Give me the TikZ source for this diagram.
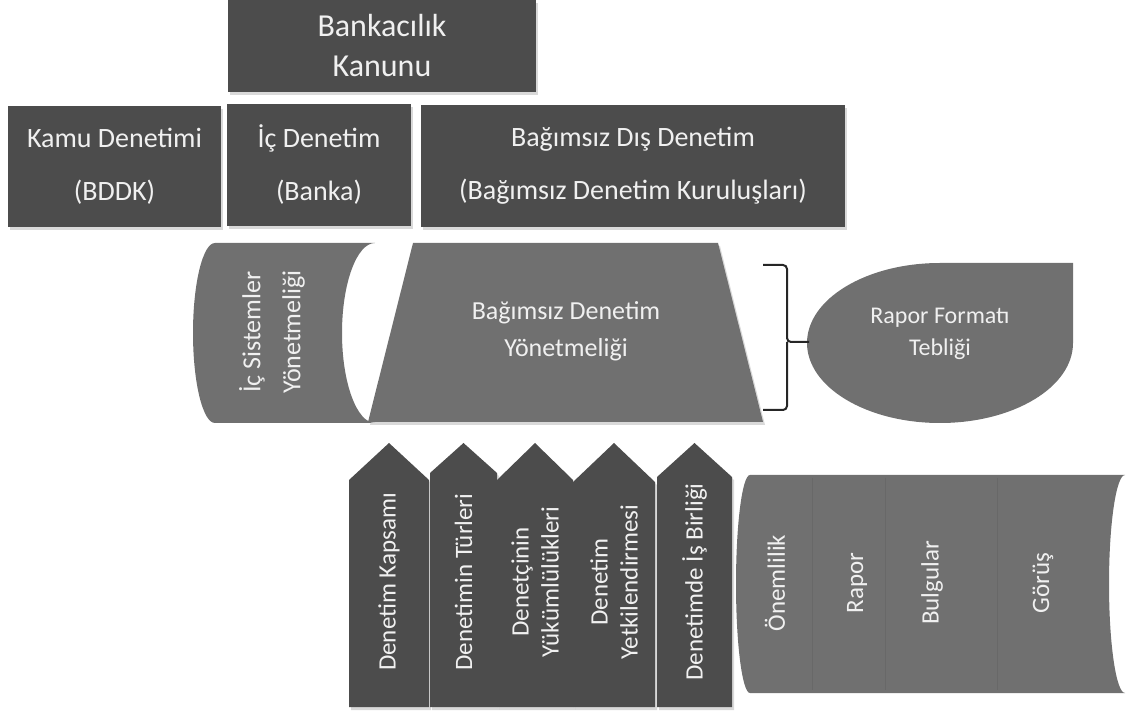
\documentclass[tikz,border=0pt]{standalone}
\usepackage{fontspec}
\setmainfont{Carlito}
\usepackage{tikz}
\usetikzlibrary{positioning, shadows}
\definecolor{auditdark}{RGB}{76,76,76}
\definecolor{auditmid}{RGB}{112,112,112}
\definecolor{audittext}{RGB}{240,240,240}

\begin{document}
\begin{tikzpicture}[x=0.5pt, y=-0.5pt,
            softshadow/.style={drop shadow={shadow xshift=1pt,shadow yshift=-1.5pt,opacity=.3}},
            box/.style={fill=auditdark,softshadow,text=audittext,align=center,
                        inner sep=0pt,font=\fontsize{14}{26.5}\selectfont},
            body/.style={fill=auditmid},
            lbl/.style={text=audittext,align=center,font=\fontsize{13}{20}\selectfont},
            vlbl/.style={lbl,rotate=90,font=\fontsize{12.5}{15}\selectfont},
            clamp/.style={draw=black!85,line width=1pt,rounded corners=2pt},
            seam/.style={draw=auditmid!93!black,line width=0.4pt}]
        \useasboundingbox (0,0) rectangle (1134,715);
        % top row
        \node[box,minimum width=154pt,minimum height=46pt,
              font=\fontsize{16}{20}\selectfont] (law) at (382,46) {Bankacılık\\Kanunu};
        \node[box,minimum width=106.5pt,minimum height=60.5pt] (public) at (114.5,166.5)
            {Kamu Denetimi\\(BDDK)};
        \node[box,minimum width=92pt,minimum height=61pt] (internal) at (319,165)
            {İç Denetim\\(Banka)};
        \node[box,minimum width=212pt,minimum height=61pt] (external) at (633,166)
            {Bağımsız Dış Denetim\\(Bağımsız Denetim Kuruluşları)};
        % regulations
        \path[body] (215,243) -- (375,243)
            arc[start angle=-90,end angle=-270,x radius=33,y radius=90] -- (215,423)
            arc[start angle=90,end angle=270,x radius=22,y radius=90] -- cycle;
        \node[lbl,rotate=90] (sysreg) at (272,332) {İç Sistemler\\Yönetmeliği};
        \path[body,softshadow] (413,243) -- (718,243) -- (763,422) -- (368,422) -- cycle;
        \node[lbl,font=\fontsize{13}{18.5}\selectfont] (auditreg) at (566,331)
            {Bağımsız Denetim\\Yönetmeliği};
        \path[body] (940,263) -- (1073,263) -- (1073,343)
            arc[start angle=0,end angle=270,x radius=133,y radius=80] -- cycle;
        \node[lbl,font=\fontsize{12}{16}\selectfont] (format) at (940,334)
            {Rapor Formatı\\Tebliği};
        \coordinate (tip) at (809,342);
        \draw[clamp] (763,265) -| (787,342) -- (tip) (787,342) |- (763,410);
        % topics
        \foreach \n/\xl/\xr/\ys/\txt in {1/349/429/480/{Denetim Kapsamı},
                2/430/497/473/{Denetimin Türleri},
                3/497/573/480/{Denetçinin\\Yükümlülükleri},
                4/573/655/482/{Denetim\\Yetkilendirmesi},
                5/657/732/477/{Denetimde İş Birliği}} {
            \path[box] (\xl,707) -- (\xl,\ys) -- ({(\xl+\xr)/2},443) -- (\xr,\ys)
                -- (\xr,707) -- cycle;
            \node[vlbl] (topic-\n) at ({(\xl+\xr)/2},582) {\txt};
        }
        % report parts
        \path[body] (750,475) -- (1125,475)
            arc[start angle=-90,end angle=-270,x radius=16,y radius=109] -- (750,693)
            arc[start angle=90,end angle=270,x radius=14,y radius=109] -- cycle;
        \foreach \x in {812,885,997}
            \draw[seam] (\x,478) -- (\x,690);
        \foreach \n/\x/\txt in {1/775/Önemlilik,2/857/Rapor,3/932/Bulgular,4/1043/Görüş}
            \node[vlbl] (part-\n) at (\x,583) {\txt};
\end{tikzpicture}
\end{document}
